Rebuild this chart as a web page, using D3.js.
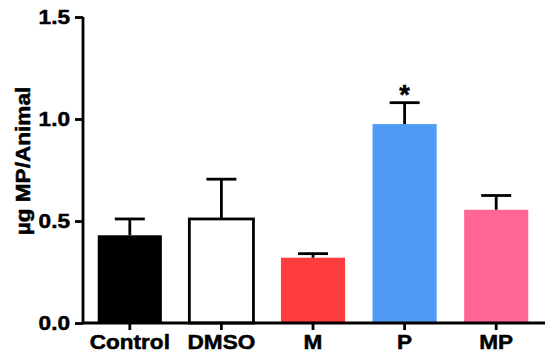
<!DOCTYPE html>
<html><head><meta charset="utf-8">
<script src="https://cdn.jsdelivr.net/npm/d3@7"></script>
<style>body{margin:0;background:#fff}svg{display:block}text{font-family:"Liberation Sans",Arial,sans-serif;font-weight:bold;stroke:#000;stroke-width:0.5px}</style>
</head><body>
<script>
const categories = ["Control","DMSO","M","P","MP"];
const means = [0.43, 0.51, 0.32, 0.975, 0.555];
const sems = [0.08, 0.195, 0.02, 0.105, 0.07];
const colors = ["#000000","#ffffff","#ff3d3d","#4f9bf6","#ff6696"];
const yTicks = [0.0, 0.5, 1.0, 1.5];
const significance = ["","","","*",""];

const W=550,H=363;
const svg=d3.select("body").append("svg").attr("width",W).attr("height",H);
const x0=83, y0=323;
const x=d3.scaleBand().domain(categories).range([84,542]).paddingInner(0.3).paddingOuter(0.15);
const y=d3.scaleLinear().domain([0,1.5]).range([y0,17]);
const stretch=1.13;

// bars
svg.selectAll("rect.bar").data(categories).enter().append("rect")
  .attr("x",d=>x(d)).attr("width",x.bandwidth())
  .attr("y",(d,i)=>y(means[i])).attr("height",(d,i)=>y0-y(means[i]))
  .attr("fill",(d,i)=>colors[i])
  .attr("stroke",(d,i)=>i===1?"#000":"none").attr("stroke-width",2.8);

// error bars
const eg=svg.append("g").attr("stroke","#000").attr("stroke-width",2.8).attr("fill","none");
categories.forEach((c,i)=>{
  const cx=x(c)+x.bandwidth()/2;
  eg.append("line").attr("x1",cx).attr("x2",cx).attr("y1",y(means[i])).attr("y2",y(means[i]+sems[i]));
  eg.append("line").attr("x1",cx-15).attr("x2",cx+15).attr("y1",y(means[i]+sems[i])).attr("y2",y(means[i]+sems[i]));
  if(significance[i]) svg.append("text").attr("x",cx).attr("y",y(means[i]+sems[i])+1)
    .attr("text-anchor","middle").attr("font-size",27).attr("stroke-width",0.3).text(significance[i]);
});

// y axis
const ya=svg.append("g").attr("transform",`translate(${x0},0)`)
  .call(d3.axisLeft(y).tickValues(yTicks).tickFormat(d3.format(".1f")).tickSize(8).tickPadding(5));
// x axis
const xa=svg.append("g").attr("transform",`translate(0,${y0})`)
  .call(d3.axisBottom(x).tickSize(7).tickPadding(5));
xa.select(".domain").attr("d",`M${x0},0H545`);
[ya,xa].forEach(a=>{
  a.selectAll("path,line").attr("stroke","#000").attr("stroke-width",2.8);
  a.selectAll("text").attr("font-size",20).attr("fill","#000").attr("font-family","Liberation Sans, Arial, sans-serif").attr("font-weight","bold");
});
ya.select(".domain").attr("d",`M0,${y0}V17`);
ya.selectAll(".tick text").attr("transform",function(){const xx=+this.getAttribute("x");return `translate(${xx},0) scale(${stretch},1) translate(${-xx},0)`;});
xa.selectAll(".tick text").attr("transform",`scale(${stretch},1)`);

// y title
svg.append("text").attr("transform",`translate(30,161) rotate(-90) scale(${stretch},1)`)
  .attr("text-anchor","middle").attr("font-size",20).text("µg MP/Animal");
</script>
</body></html>
